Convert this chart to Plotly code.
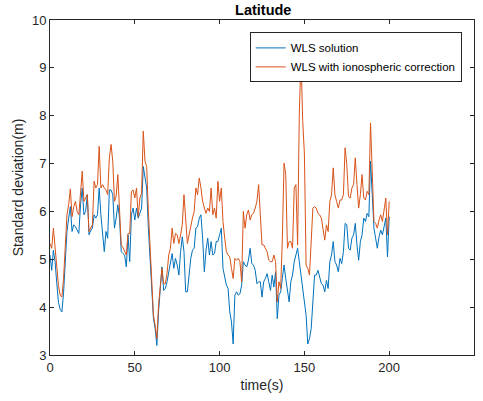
import plotly.graph_objects as go

# Time axis (s) and per-epoch standard deviation of latitude (m)
time_s = list(range(0, 201))

wls_solution = [
    5.09, 4.77, 5.19, 4.95, 4.50, 4.10, 3.95, 3.90, 4.30, 4.95,
    5.58, 5.86, 6.10, 5.58, 5.72, 5.68, 5.60, 5.54, 6.14, 6.49,
    5.93, 6.00, 6.35, 5.51, 5.60, 5.65, 5.93, 5.86, 5.93, 6.49,
    5.93, 5.58, 5.16, 5.58, 5.44, 6.45, 6.45, 6.35, 5.65, 5.86,
    6.14, 5.86, 5.16, 5.12, 5.09, 4.84, 5.51, 4.95, 5.93, 6.07,
    5.82, 6.07, 5.86, 5.96, 6.07, 6.94, 6.66, 6.49, 5.65, 5.02,
    4.18, 3.76, 3.55, 3.20, 3.90, 4.46, 4.84, 4.35, 4.39, 4.53,
    4.74, 4.95, 5.12, 4.81, 5.02, 4.88, 4.67, 5.16, 5.47, 5.16,
    4.32, 4.32, 4.74, 5.02, 5.19, 5.23, 5.65, 5.68, 5.86, 5.93,
    5.44, 4.74, 5.19, 5.44, 5.09, 5.37, 5.09, 5.12, 5.37, 5.37,
    5.51, 5.65, 4.81, 4.60, 4.46, 4.39, 3.90, 3.69, 3.23, 4.25,
    4.32, 4.25, 4.28, 4.46, 4.95, 4.88, 4.84, 4.98, 5.23, 4.91,
    4.88, 4.77, 4.49, 4.53, 4.53, 4.21, 4.53, 4.60, 4.70, 4.53,
    4.35, 4.67, 4.42, 4.74, 3.76, 4.25, 4.32, 4.60, 4.88, 4.60,
    4.39, 4.11, 4.53, 4.67, 4.95, 5.09, 5.23, 4.95, 4.67, 4.32,
    4.04, 3.83, 3.23, 3.34, 3.55, 4.18, 4.67, 4.67, 4.77, 4.63,
    4.49, 4.46, 4.32, 4.56, 4.39, 4.95, 5.09, 5.37, 4.95, 4.88,
    4.74, 5.02, 4.91, 5.16, 5.75, 5.72, 5.23, 5.19, 5.44, 5.51,
    5.75, 5.30, 4.98, 5.37, 5.51, 5.86, 5.79, 5.96, 5.89, 7.05,
    6.21, 5.65, 5.44, 5.23, 5.47, 5.61, 5.51, 5.68, 5.86, 5.05,
    5.89,
]

wls_iono = [
    5.33, 5.23, 5.65, 5.23, 4.85, 4.45, 4.25, 4.21, 4.60, 5.30,
    5.93, 6.14, 6.47, 5.89, 6.10, 6.21, 6.00, 5.93, 6.31, 6.84,
    6.21, 6.28, 6.35, 5.58, 5.65, 5.72, 6.63, 6.49, 6.56, 7.36,
    6.49, 6.56, 6.49, 6.45, 6.35, 7.12, 7.40, 7.05, 6.21, 6.31,
    6.77, 6.14, 5.30, 5.25, 5.16, 5.09, 5.54, 5.54, 6.42, 6.45,
    6.28, 6.49, 5.89, 6.28, 6.38, 7.68, 7.05, 6.94, 6.00, 5.16,
    4.32, 3.83, 3.62, 3.34, 4.04, 4.53, 4.81, 4.49, 4.49, 4.70,
    5.09, 5.23, 5.65, 5.33, 5.54, 5.51, 5.33, 5.51, 5.72, 6.35,
    5.79, 5.33, 5.51, 5.72, 5.86, 6.00, 6.49, 6.35, 6.70, 6.49,
    6.21, 6.07, 5.96, 6.07, 6.00, 6.49, 5.93, 6.07, 5.86, 6.63,
    6.21, 6.49, 5.79, 5.44, 5.16, 5.09, 5.05, 4.81, 4.60, 5.02,
    4.98, 5.02, 4.95, 4.53, 6.00, 5.65, 5.93, 6.03, 5.82, 5.93,
    5.96, 6.07, 6.21, 6.56, 5.86, 5.30, 5.30, 5.23, 5.16, 4.98,
    4.95, 4.95, 5.09, 4.95, 4.11, 4.53, 4.39, 5.44, 7.01, 6.77,
    5.23, 5.37, 5.37, 5.23, 6.49, 6.56, 5.30, 8.03, 9.22, 7.90,
    7.20, 4.88, 4.81, 4.67, 5.30, 6.07, 6.10, 6.07, 5.96, 5.93,
    5.86, 5.65, 5.40, 5.72, 5.58, 6.21, 6.35, 6.91, 6.35, 6.21,
    6.07, 6.24, 6.24, 6.35, 7.33, 6.98, 6.31, 6.28, 6.49, 6.56,
    7.12, 6.56, 6.07, 6.35, 6.77, 6.28, 6.24, 6.42, 6.35, 7.85,
    6.98, 5.79, 5.75, 5.65, 5.82, 5.93, 5.79, 6.07, 6.28, 5.51,
    6.21,
]

x_ticks = [0, 50, 100, 150, 200, 250]
y_ticks = [3, 4, 5, 6, 7, 8, 9, 10]

AXIS_GREY = "#262626"
FONT = "Liberation Sans, Arial, Helvetica, sans-serif"

fig = go.Figure()
fig.add_trace(go.Scatter(
    x=time_s, y=wls_solution, mode="lines", name="WLS solution",
    line=dict(color="#0072BD", width=1),
))
fig.add_trace(go.Scatter(
    x=time_s, y=wls_iono, mode="lines", name="WLS with ionospheric correction",
    line=dict(color="#D95319", width=1),
))

axis_common = dict(
    showline=True, linecolor=AXIS_GREY, linewidth=1, mirror="allticks",
    ticks="inside", ticklen=4, tickcolor=AXIS_GREY, tickwidth=1,
    showgrid=False, zeroline=False,
    tickfont=dict(family=FONT, size=13, color=AXIS_GREY),
)

fig.update_xaxes(
    range=[0, 250], tickvals=x_ticks,
    title=dict(text="time(s)", font=dict(family=FONT, size=14, color=AXIS_GREY), standoff=6),
    **axis_common,
)
fig.update_yaxes(
    range=[3, 10], tickvals=y_ticks,
    title=dict(text="Standard deviation(m)", font=dict(family=FONT, size=14, color=AXIS_GREY), standoff=5),
    **axis_common,
)

fig.update_layout(
    width=483, height=401,
    margin=dict(l=50, r=9, t=20, b=46),
    paper_bgcolor="white", plot_bgcolor="white",
    title=dict(text="<b>Latitude</b>", x=0.545, xanchor="center", y=0.975, yanchor="middle",
               font=dict(family=FONT, size=14.5, color="#000000")),
    legend=dict(
        x=0.971, y=0.963, xanchor="right", yanchor="top",
        bgcolor="white", bordercolor=AXIS_GREY, borderwidth=1,
        font=dict(family=FONT, size=11.5, color="#000000"),
        tracegroupgap=0, itemwidth=30,
    ),
    showlegend=True,
)

fig.write_html("out.html")
